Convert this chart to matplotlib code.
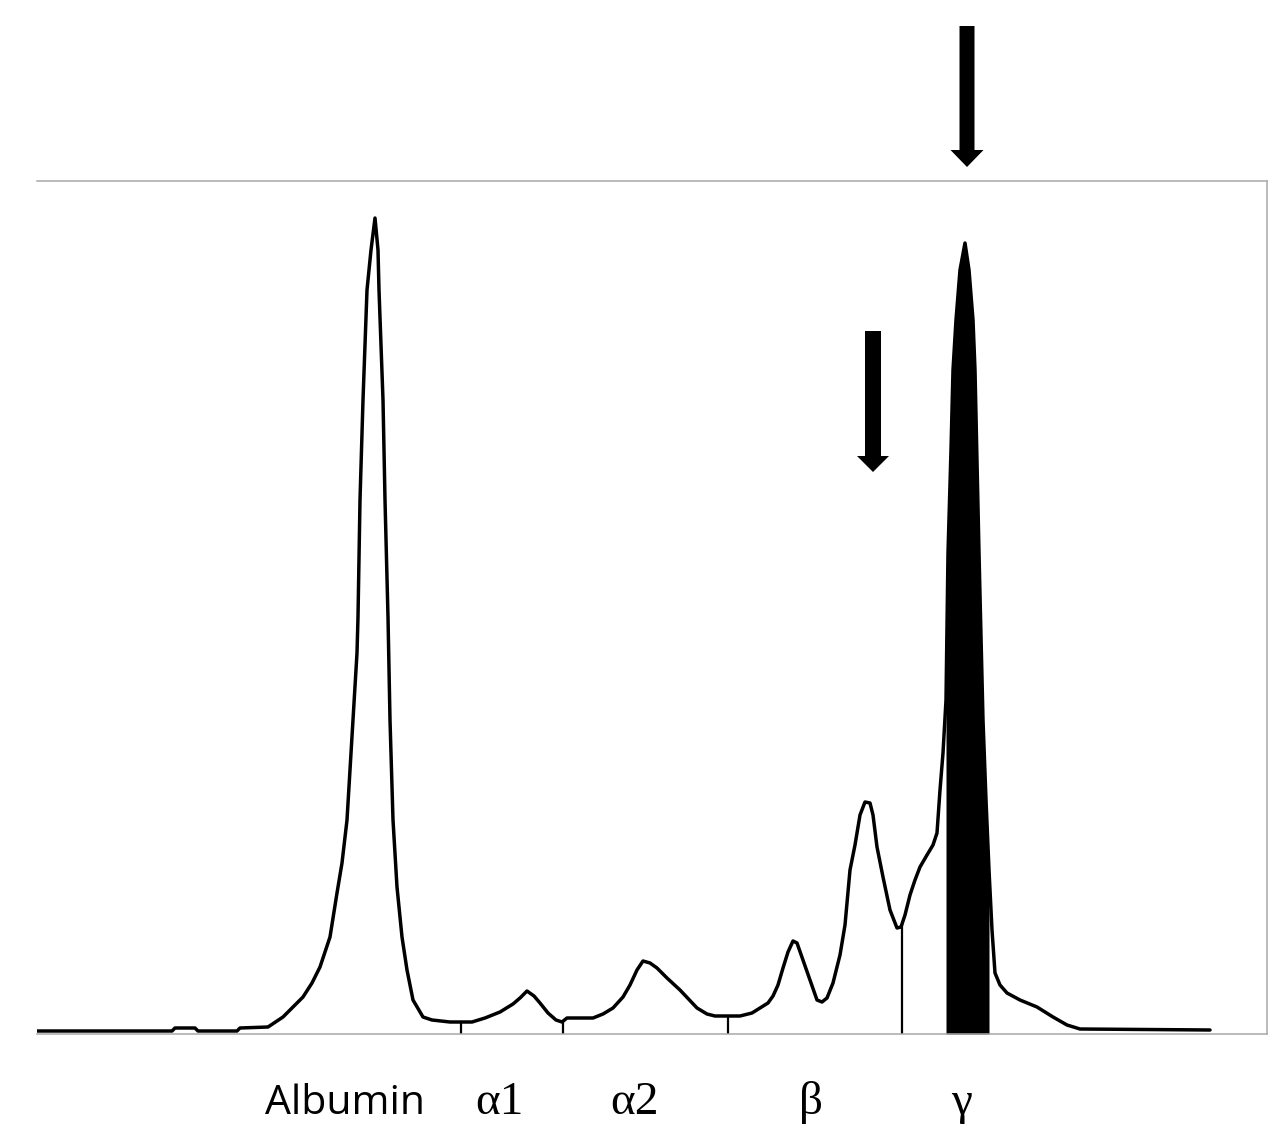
import numpy as np
import matplotlib
matplotlib.use("Agg")
import matplotlib.pyplot as plt
from matplotlib.patches import FancyArrow

# Densitometry trace (migration position, relative absorbance)
position = [0, 135, 138, 158, 161, 200, 203, 231, 246, 256, 266, 275, 283, 293, 300, 305, 310, 313, 316, 320,
            321, 323, 326, 330, 334, 338, 341, 342, 346, 348, 351, 353, 356, 360, 365, 370, 376, 386, 395, 413,
            435, 448, 463, 476, 483, 490, 497, 503, 511, 519, 525, 530, 556, 566, 576, 586, 593, 600, 606, 613,
            620, 630, 643, 660, 670, 678, 703, 715, 723, 731, 736, 741, 746, 751, 756, 760, 766, 773, 780, 785,
            790, 796, 803, 808, 813, 818, 823, 828, 833, 836, 840, 846, 853, 860, 864, 868, 873, 878, 883, 890,
            896, 900, 903, 906, 909, 911, 914, 916, 919, 923, 928, 932, 936, 938, 942, 946, 949, 952, 955, 958,
            963, 970, 983, 1000, 1016, 1030, 1043, 1173]
absorbance = [0, 0, 3, 3, 0, 0, 3, 4, 14, 24, 34, 48, 64, 94, 138, 168, 211, 261, 311, 378,
              414, 531, 631, 741, 781, 813, 781, 741, 631, 531, 414, 311, 211, 144, 94, 61, 31, 14, 11, 9,
              9, 13, 19, 27, 33, 40, 35, 28, 18, 11, 9, 13, 13, 17, 23, 34, 46, 61, 70, 68,
              63, 53, 41, 23, 17, 15, 15, 18, 23, 28, 35, 46, 63, 79, 90, 88, 71, 51, 31, 29,
              33, 48, 76, 106, 161, 186, 216, 229, 228, 216, 184, 154, 121, 103, 104, 116, 136, 151, 164, 176,
              186, 198, 241, 278, 331, 478, 581, 661, 711, 761, 788, 761, 711, 661, 478, 311, 231, 161, 101, 58,
              46, 38, 31, 24, 14, 6, 2, 1]

fraction_bounds = [424, 526, 691, 865]          # fraction separators
monoclonal_band = (909, 952)                     # shaded M-spike region
fraction_labels = ["Albumin", "\u03b11", "\u03b12", "\u03b2", "\u03b3"]
label_pos = [308, 462, 597, 774, 925]

x = np.array(position, dtype=float)
y = np.array(absorbance, dtype=float)

fig = plt.figure(figsize=(12.8, 11.41), dpi=100)
ax = fig.add_axes([37 / 1280, 107 / 1141, 1230 / 1280, 853 / 1141])
ax.set_xlim(0, 1230)
ax.set_ylim(-3, 850)

# shaded monoclonal peak
m = (x >= monoclonal_band[0]) & (x <= monoclonal_band[1])
ax.fill_between(x[m], y[m], -3, color="black", lw=0)

ax.plot(x, y, color="black", lw=2.5, solid_joinstyle="round", solid_capstyle="round")

# fraction separators
for b in fraction_bounds:
    top = np.interp(b, x, y)
    ax.vlines(b, -3, top, color="black", lw=1.6)

ax.spines["left"].set_visible(False)
for s in ["top", "right", "bottom"]:
    ax.spines[s].set_color("#a8a8a8")
    ax.spines[s].set_linewidth(1.1)
ax.set_xticks([])
ax.set_yticks([])

# arrows marking monoclonal components
big = FancyArrow(930, 1005, 0, -141, width=15, head_width=33, head_length=17,
                 length_includes_head=True, color="black", lw=0, clip_on=False)
small = FancyArrow(836, 700, 0, -141, width=16, head_width=32, head_length=16,
                   length_includes_head=True, color="black", lw=0, clip_on=False)
ax.add_patch(big)
ax.add_patch(small)

for lab, px in zip(fraction_labels, label_pos):
    if lab == "Albumin":
        ax.text(px, -83, lab, ha="center", va="baseline", fontsize=29.5,
                family="Open Sans", clip_on=False)
    else:
        ax.text(px, -83, lab, ha="center", va="baseline", fontsize=34,
                family="Liberation Serif", clip_on=False)

fig.savefig("out.png", dpi=100)
